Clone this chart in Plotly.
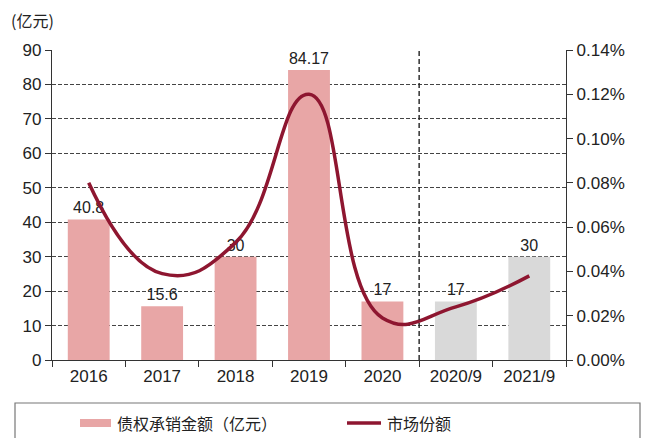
import plotly.graph_objects as go

categories = ["2016", "2017", "2018", "2019", "2020", "2020/9", "2021/9"]
underwriting = [40.8, 15.6, 30, 84.17, 17, 17, 30]
bar_labels = ["40.8", "15.6", "30", "84.17", "17", "17", "30"]
market_share = [0.00080, 0.00039, 0.00053, 0.00120, 0.00019, 0.00024, 0.00038]
bar_colors = ["#E8A6A6"] * 5 + ["#D9D9D9"] * 2
left_ticks = list(range(0, 100, 10))
right_ticks = [0, 0.0002, 0.0004, 0.0006, 0.0008, 0.0010, 0.0012, 0.0014]
legend_names = ["债权承销金额（亿元）", "市场份额"]

FONT = "Liberation Sans, Arial, sans-serif"
CJK = "Noto Sans CJK SC, sans-serif"
PINK = "#E8A6A6"
RED = "#8E1630"

L, R, T, B, W, H = 52, 82, 50, 78, 648, 438
PW, PH = W - L - R, H - T - B


def px(xp):
    return (xp - L) / PW


def py(yp):
    return (H - B - yp) / PH


fig = go.Figure()
fig.add_trace(go.Bar(
    x=categories, y=underwriting, name=legend_names[0],
    marker=dict(color=bar_colors, line=dict(width=0)),
    text=bar_labels, textposition="outside", cliponaxis=False,
    textfont=dict(family=FONT, size=16, color="#222"),
    width=0.57, showlegend=False,
))
fig.add_trace(go.Scatter(
    x=categories, y=market_share, name=legend_names[1], yaxis="y2",
    mode="lines", line=dict(color=RED, width=3.5, shape="spline", smoothing=1.3),
    showlegend=False,
))

split_index = categories.index("2020/9") - 0.5
fig.add_shape(type="line", xref="x", yref="paper", x0=split_index, x1=split_index,
              y0=0, y1=1, line=dict(color="#222", width=1.4, dash="5px,3px"))

# legend box (cut off at bottom, as in reference)
fig.add_shape(type="rect", xref="paper", yref="paper",
              x0=px(15), x1=px(640), y0=py(448), y1=py(403),
              line=dict(color="#777", width=1.2), fillcolor="rgba(0,0,0,0)")
# legend swatches
fig.add_shape(type="rect", xref="paper", yref="paper",
              x0=px(80), x1=px(111), y0=py(427), y1=py(419),
              line=dict(width=0), fillcolor=PINK)
fig.add_shape(type="line", xref="paper", yref="paper",
              x0=px(347), x1=px(381), y0=py(423), y1=py(423),
              line=dict(color=RED, width=3.5))
fig.add_annotation(text=legend_names[0], xref="paper", yref="paper",
                   x=px(115), y=py(423), xanchor="left", yanchor="middle",
                   showarrow=False, font=dict(family=CJK, size=16, color="#222"))
fig.add_annotation(text=legend_names[1], xref="paper", yref="paper",
                   x=px(385), y=py(423), xanchor="left", yanchor="middle",
                   showarrow=False, font=dict(family=CJK, size=16, color="#222"))

fig.add_annotation(text="(亿元)", xref="paper", yref="paper",
                   x=px(9), y=py(20), xanchor="left", yanchor="middle",
                   showarrow=False, font=dict(family=CJK, size=16, color="#222"))

fig.update_layout(
    width=W, height=H,
    margin=dict(l=L, r=R, t=T, b=B, autoexpand=False),
    paper_bgcolor="white", plot_bgcolor="white",
    showlegend=False,
    font=dict(family=FONT, size=17, color="#222"),
    xaxis=dict(
        type="category", showline=True, linecolor="#333", linewidth=1.3,
        ticks="outside", tickson="boundaries", ticklen=6, tickcolor="#333",
        tickfont=dict(family=FONT, size=17, color="#222"), showgrid=False,
        range=[-0.5, 6.5],
    ),
    yaxis=dict(
        range=[0, 90], tickvals=left_ticks, showline=True, linecolor="#333", linewidth=1.3,
        ticks="outside", ticklen=6, tickcolor="#333",
        showgrid=True, gridcolor="#444", griddash="4px,2px", gridwidth=1.3,
        zeroline=False, tickfont=dict(family=FONT, size=17, color="#222"),
    ),
    yaxis2=dict(
        overlaying="y", side="right", range=[0, 0.0014], tickvals=right_ticks,
        tickformat=".2%", showline=True, linecolor="#333", linewidth=1.3,
        ticks="outside", ticklen=6, tickcolor="#333", showgrid=False, zeroline=False,
        tickfont=dict(family=FONT, size=17, color="#222"),
    ),
)

fig.write_html(
    "out.html",
    config={"displayModeBar": False},
    post_script="document.body.style.margin='0';document.body.style.overflow='hidden';",
)
